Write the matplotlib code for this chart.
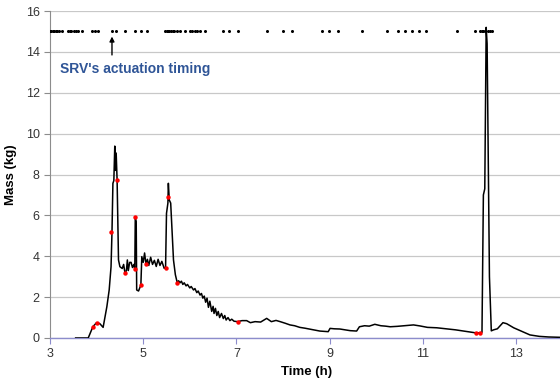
import numpy as np
import matplotlib.pyplot as plt

plt.rcParams['font.family'] = ['Liberation Sans', 'DejaVu Sans']

# mass curve (time in h, mass in kg)
time_h = [3.55, 3.82, 3.92, 4.00, 4.07, 4.14, 4.22, 4.27, 4.31, 4.33, 4.35, 4.37,
          4.39, 4.40, 4.42, 4.44, 4.47, 4.50, 4.55, 4.58, 4.61, 4.64, 4.66, 4.68,
          4.71, 4.74, 4.77, 4.80, 4.82, 4.83, 4.85, 4.86, 4.90, 4.95, 4.97, 5.00,
          5.03, 5.06, 5.09, 5.12, 5.16, 5.20, 5.24, 5.28, 5.32, 5.36, 5.40, 5.45,
          5.48, 5.50, 5.53, 5.54, 5.56, 5.59, 5.62, 5.65, 5.69, 5.73, 5.76, 5.79,
          5.82, 5.85, 5.88, 5.92, 5.95, 6.00, 6.03, 6.08, 6.11, 6.15, 6.18, 6.22,
          6.25, 6.28, 6.31, 6.34, 6.37, 6.40, 6.43, 6.47, 6.50, 6.52, 6.55, 6.58,
          6.61, 6.64, 6.68, 6.72, 6.75, 6.78, 6.82, 6.86, 6.90, 6.95, 7.03, 7.12,
          7.22, 7.30, 7.40, 7.52, 7.65, 7.75, 7.85, 7.94, 8.05, 8.15, 8.25, 8.36,
          8.47, 8.58, 8.70, 8.79, 8.97, 9.01, 9.10, 9.22, 9.33, 9.44, 9.58, 9.64,
          9.75, 9.85, 9.97, 10.10, 10.20, 10.30, 10.45, 10.60, 10.80, 10.94, 11.10,
          11.30, 11.50, 11.70, 11.90, 12.05, 12.14, 12.23, 12.27, 12.30, 12.33,
          12.36, 12.38, 12.43, 12.47, 12.52, 12.60, 12.72, 12.80, 12.95, 13.10,
          13.30, 13.50, 13.70, 14.00]
mass_kg = [0.00, 0.00, 0.55, 0.75, 0.70, 0.52, 1.53, 2.35, 3.49, 5.17, 7.57, 7.70,
           9.39, 8.20, 9.05, 7.73, 3.82, 3.49, 3.40, 3.60, 3.17, 3.30, 3.82, 3.30,
           3.70, 3.70, 3.45, 3.60, 3.37, 5.90, 5.70, 2.35, 2.30, 2.59, 3.98, 3.70,
           4.16, 3.60, 3.85, 3.55, 3.95, 3.60, 3.80, 3.50, 3.85, 3.55, 3.75, 3.41,
           3.45, 6.10, 6.60, 7.57, 6.75, 6.60, 5.20, 3.82, 3.10, 2.71, 2.80, 2.70,
           2.78, 2.62, 2.70, 2.55, 2.62, 2.45, 2.52, 2.35, 2.42, 2.22, 2.30, 2.10,
           2.18, 1.95, 2.05, 1.75, 1.95, 1.50, 1.80, 1.30, 1.55, 1.20, 1.45, 1.10,
           1.30, 1.00, 1.20, 0.95, 1.10, 0.88, 1.00, 0.85, 0.92, 0.82, 0.80, 0.85,
           0.85, 0.75, 0.80, 0.78, 0.96, 0.80, 0.86, 0.80, 0.72, 0.64, 0.60, 0.52,
           0.48, 0.43, 0.38, 0.34, 0.31, 0.47, 0.45, 0.44, 0.40, 0.36, 0.34, 0.55,
           0.60, 0.58, 0.67, 0.60, 0.58, 0.55, 0.57, 0.60, 0.64, 0.59, 0.52,
           0.50, 0.45, 0.40, 0.33, 0.28, 0.25, 0.25, 0.28, 7.00, 7.30,
           15.20, 14.40, 3.00, 0.35, 0.40, 0.45, 0.75, 0.70, 0.50, 0.35,
           0.15, 0.08, 0.05, 0.03]

# red markers on the curve
red_t = [3.92, 4.00, 4.31, 4.43, 4.61, 4.82, 4.82, 4.95, 5.06, 5.49, 5.54, 5.73, 7.04, 12.14, 12.23]
red_m = [0.55, 0.75, 5.17, 7.73, 3.17, 5.90, 3.36, 2.59, 3.60, 3.41, 6.88, 2.71, 0.78, 0.25, 0.25]

# SRV actuation times (plotted at 15 kg)
srv_t = [3.00, 3.03, 3.06, 3.09, 3.13, 3.16, 3.19, 3.26,
         3.39, 3.42, 3.45, 3.52, 3.56, 3.60, 3.69,
         3.90, 3.97, 4.03, 4.33, 4.42, 4.61, 4.82, 4.95, 5.08,
         5.47, 5.50, 5.53, 5.56, 5.60, 5.63, 5.66, 5.73, 5.79,
         5.90, 6.00, 6.05, 6.11, 6.16, 6.22, 6.33,
         6.71, 6.84, 7.03, 7.66, 8.00, 8.19,
         8.84, 8.99, 9.18, 9.70, 10.23,
         10.47, 10.62, 10.77, 10.92, 11.07, 11.73,
         12.12, 12.22, 12.26, 12.30, 12.34, 12.39, 12.44, 12.48]
srv_level = 15

fig = plt.figure(figsize=(5.6, 3.86), dpi=100)
ax = fig.add_axes([50 / 560, 1 - 338 / 386, 512.6 / 560, 327 / 386])

ax.plot(time_h, mass_kg, color='black', linewidth=1.1, zorder=3)
ax.plot(red_t, red_m, 'o', color='#FF0000', markersize=3.2, markeredgewidth=0, zorder=4)
ax.plot(srv_t, [srv_level] * len(srv_t), 'o', color='black', markersize=2.2, markeredgewidth=0, zorder=4)

ax.text(3.21, 13.15, "SRV's actuation timing", color='#2F5597', fontsize=10,
        fontweight='bold', va='center', ha='left')
ax.annotate('', xy=(4.33, 14.75), xytext=(4.33, 13.85),
            arrowprops=dict(arrowstyle='-|>', color='black', lw=1.0,
                            mutation_scale=7, shrinkA=0, shrinkB=0))

ax.set_xlim(3, 14)
ax.set_ylim(0, 16)
ax.set_xticks([3, 5, 7, 9, 11, 13])
ax.set_yticks(np.arange(0, 17, 2))
ax.yaxis.grid(True, color='#C8C8C8', linewidth=0.9)
ax.set_axisbelow(True)

for s in ['top', 'right']:
    ax.spines[s].set_visible(False)
ax.spines['left'].set_color('#8C8C8C')
ax.spines['bottom'].set_color('#8C8CCC')
ax.spines['bottom'].set_linewidth(1.0)
ax.tick_params(axis='y', colors='#8C8C8C', labelcolor='#333333', labelsize=9, length=4)
ax.tick_params(axis='x', colors='#8C8CCC', labelcolor='#333333', labelsize=9, length=4)

ax.set_xlabel('Time (h)', fontsize=9.5, fontweight='bold', labelpad=4)
ax.set_ylabel('Mass (kg)', fontsize=9.5, fontweight='bold', labelpad=6)

fig.savefig('out.png', dpi=100)
